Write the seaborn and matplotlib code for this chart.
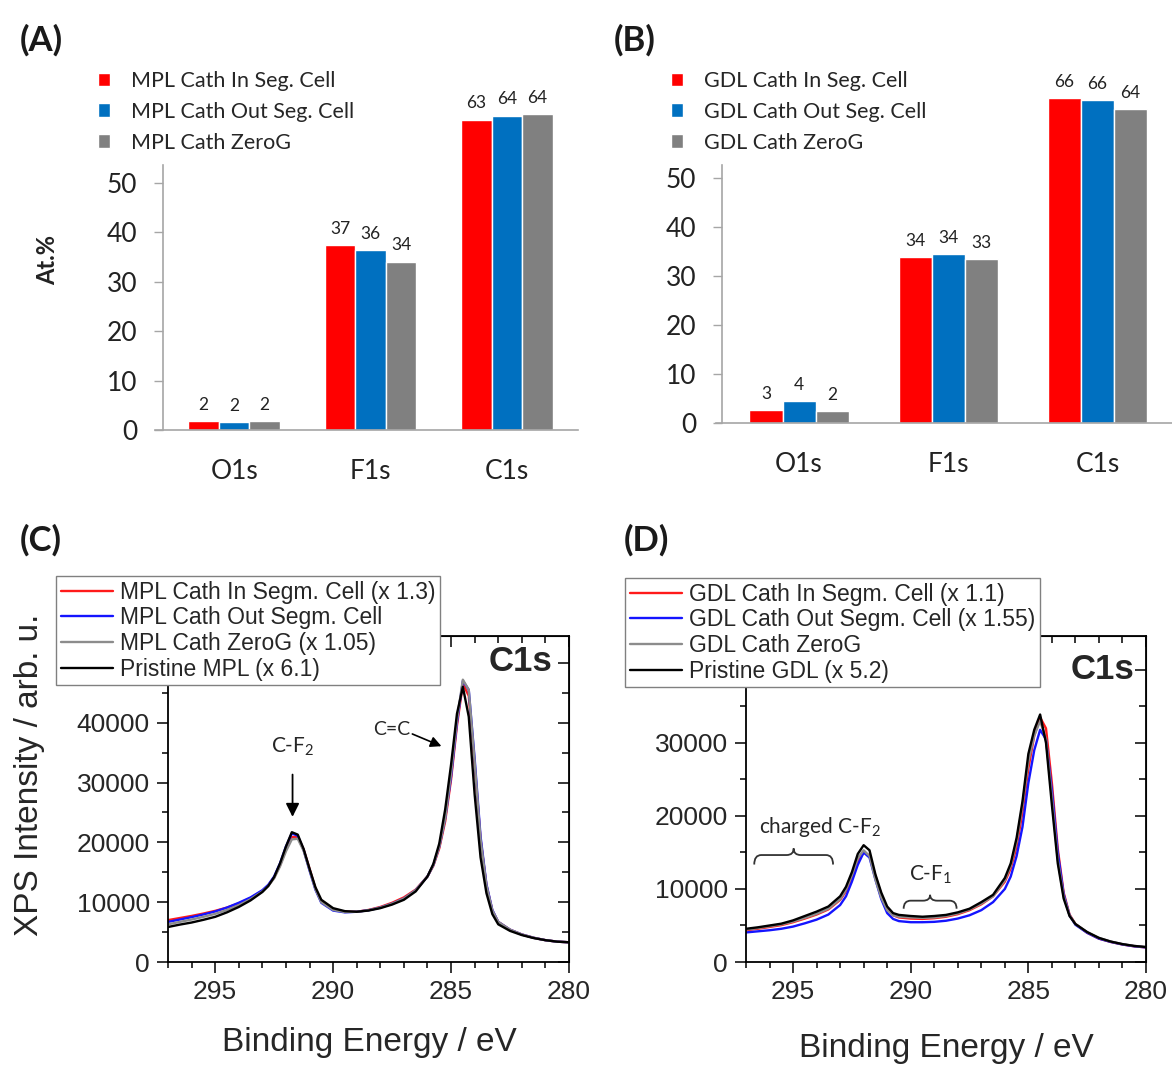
import numpy as np
import pandas as pd
import matplotlib
matplotlib.use("Agg")
import matplotlib.pyplot as plt
import seaborn as sns
from matplotlib.ticker import MultipleLocator, FuncFormatter
from matplotlib.path import Path
from matplotlib.patches import PathPatch

# ---------------- data ----------------
lines = ["O1s", "F1s", "C1s"]

a_samples = ["MPL Cath In Seg. Cell", "MPL Cath Out Seg. Cell", "MPL Cath ZeroG"]
a_in = [1.8, 37.4, 62.8]
a_out = [1.6, 36.4, 63.6]
a_zero = [1.8, 34.1, 63.9]

b_samples = ["GDL Cath In Seg. Cell", "GDL Cath Out Seg. Cell", "GDL Cath ZeroG"]
b_in = [2.6, 33.8, 66.3]
b_out = [4.4, 34.4, 65.9]
b_zero = [2.4, 33.4, 64.1]

bar_colors = ["#ff0000", "#0070c0", "#808080"]

energy = [297.0, 296.5, 296.0, 295.5, 295.0, 294.5, 294.0, 293.5, 293.0, 292.75,
          292.5, 292.25, 292.0, 291.75, 291.5, 291.25, 291.0, 290.75, 290.5, 290.0,
          289.5, 289.0, 288.5, 288.0, 287.5, 287.0, 286.5, 286.0, 285.75, 285.5,
          285.25, 285.0, 284.75, 284.5, 284.25, 284.0, 283.75, 283.5, 283.25, 283.0,
          282.5, 282.0, 281.5, 281.0, 280.5, 280.0]

c_labels = ["MPL Cath In Segm. Cell (x 1.3)", "MPL Cath Out Segm. Cell",
            "MPL Cath ZeroG (x 1.05)", "Pristine MPL (x 6.1)"]
c_in = [7000, 7350, 7700, 8100, 8550, 9100, 9800, 10700, 11900, 12800,
        14100, 16200, 18800, 20900, 20900, 18800, 15600, 12300, 10100, 8800,
        8400, 8400, 8700, 9200, 9900, 10800, 12100, 14300, 16100, 19000,
        23500, 30500, 39500, 46500, 44500, 33000, 20500, 12800, 8600, 6700,
        5400, 4600, 4050, 3650, 3400, 3300]
c_out = [6700, 7100, 7500, 7950, 8450, 9100, 9900, 10800, 12000, 12900,
         14300, 16500, 19300, 21500, 21100, 18700, 15300, 12100, 9900, 8600,
         8300, 8400, 8650, 9100, 9750, 10600, 12000, 14300, 16200, 19300,
         24000, 31000, 40000, 47000, 45500, 34000, 21000, 13000, 8700, 6700,
         5400, 4600, 4050, 3650, 3400, 3300]
c_zero = [6300, 6700, 7100, 7550, 8050, 8700, 9500, 10500, 11800, 12700,
          14000, 16000, 18500, 20500, 20600, 18600, 15400, 12200, 10000, 8700,
          8350, 8400, 8650, 9100, 9750, 10600, 12000, 14300, 16200, 19300,
          24000, 31500, 40500, 47200, 45500, 33500, 20500, 12800, 8600, 6700,
          5400, 4600, 4050, 3650, 3400, 3300]
c_pristine = [5850, 6250, 6600, 7050, 7550, 8300, 9200, 10300, 11700, 12700,
              14200, 16500, 19300, 21700, 21300, 18900, 15600, 12500, 10400, 9000,
              8500, 8400, 8600, 9000, 9600, 10400, 11800, 14300, 16400, 19800,
              25500, 33000, 41500, 46000, 41000, 28000, 17500, 11500, 8000, 6300,
              5200, 4500, 4000, 3650, 3400, 3300]

d_labels = ["GDL Cath In Segm. Cell (x 1.1)", "GDL Cath Out Segm. Cell (x 1.55)",
            "GDL Cath ZeroG", "Pristine GDL (x 5.2)"]
d_in = [4350, 4550, 4800, 5050, 5450, 5950, 6500, 7200, 8500, 9700,
        11500, 13700, 15000, 14600, 11800, 9200, 7300, 6400, 6100, 5950,
        5900, 6000, 6200, 6550, 7100, 7900, 9000, 11000, 12800, 15800,
        20500, 26500, 31000, 33500, 32000, 24500, 15500, 9500, 6500, 5200,
        4000, 3200, 2750, 2400, 2150, 2000]
d_out = [4050, 4200, 4350, 4550, 4850, 5300, 5800, 6500, 7800, 9000,
         11000, 13300, 15000, 14300, 11300, 8600, 6700, 5900, 5600, 5450,
         5450, 5500, 5650, 5950, 6400, 7100, 8200, 10000, 11700, 14500,
         18500, 24500, 29000, 31800, 30500, 23500, 15000, 9300, 6400, 5100,
         4000, 3200, 2750, 2400, 2150, 2000]
d_zero = [4450, 4650, 4900, 5150, 5550, 6050, 6600, 7300, 8600, 9900,
          11900, 14200, 15300, 14500, 11300, 8800, 7100, 6400, 6200, 6100,
          6050, 6100, 6300, 6650, 7200, 8000, 9000, 11200, 13200, 16500,
          21500, 27500, 31000, 33000, 30500, 22500, 14000, 9000, 6400, 5200,
          4100, 3300, 2800, 2450, 2200, 2050]
d_pristine = [4550, 4750, 5000, 5250, 5700, 6300, 6900, 7600, 9000, 10300,
              12300, 14800, 16000, 15300, 12000, 9500, 7600, 6700, 6450, 6300,
              6200, 6300, 6450, 6800, 7300, 8200, 9200, 11500, 13500, 17000,
              22000, 28500, 31800, 33900, 30000, 21500, 13500, 8700, 6300, 5200,
              4100, 3300, 2800, 2450, 2200, 2050]

line_colors = ["#ff1a1a", "#1414ff", "#8c8c8c", "#000000"]

# ---------------- style ----------------
sns.set_style("ticks")
plt.rcParams["font.family"] = ["Liberation Sans", "DejaVu Sans"]
plt.rcParams["mathtext.fontset"] = "custom"
plt.rcParams["mathtext.rm"] = "Lato"
plt.rcParams["mathtext.it"] = "Lato:italic"
plt.rcParams["mathtext.bf"] = "Lato:bold"

W, H = 1172, 1068
fig = plt.figure(figsize=(W / 100, H / 100), dpi=100)


def rect(l, r, t, b):
    return [l / W, 1 - b / H, (r - l) / W, (b - t) / H]


def bar_panel(ax, samples, vin, vout, vzero, width, xlim, spine_x, spine_top, leg_xy):
    df = pd.DataFrame({
        "line": lines * 3,
        "sample": [samples[0]] * 3 + [samples[1]] * 3 + [samples[2]] * 3,
        "value": vin + vout + vzero,
    })
    sns.barplot(data=df, x="line", y="value", hue="sample", palette=bar_colors,
                saturation=1, width=width, errorbar=None, ax=ax)
    for cont in ax.containers:
        ax.bar_label(cont, labels=[f"{v:.0f}" for v in cont.datavalues],
                     padding=6, fontsize=12.5, family="Lato", color="#222222")
    ax.set_ylim(0, 67)
    ax.set_xlim(*xlim)
    ax.set_yticks([0, 10, 20, 30, 40, 50])
    ax.set_xlabel("")
    ax.set_ylabel("")
    for s in ["top", "right"]:
        ax.spines[s].set_visible(False)
    for s in ["left", "bottom"]:
        ax.spines[s].set_color("#a6a6a6")
        ax.spines[s].set_linewidth(1.2)
    ax.spines["left"].set_position(("data", spine_x))
    ax.spines["left"].set_bounds(0, spine_top)
    ax.tick_params(axis="y", direction="out", length=6.5, color="#a6a6a6", width=1,
                   labelsize=19, pad=12, labelfontfamily="Lato", labelcolor="#222222")
    ax.tick_params(axis="x", length=0, labelsize=19, pad=21, labelfontfamily="Lato",
                   labelcolor="#222222")
    h, l = ax.get_legend_handles_labels()
    if ax.get_legend() is not None:
        ax.get_legend().remove()
    fig.legend(h, l, loc="upper left", bbox_to_anchor=(leg_xy[0] / W, 1 - leg_xy[1] / H),
               frameon=False, handlelength=0.58, handleheight=0.58, handletextpad=0.95,
               labelspacing=0.5, borderpad=0, borderaxespad=0,
               prop=dict(family="Lato", size=15.5))


axA = fig.add_axes(rect(155, 578, 430 - 67 * 4.94, 430))
bar_panel(axA, a_samples, a_in, a_out, a_zero, 0.67, (-0.58, 2.52), -0.52, 53.6, (98, 71))

axB = fig.add_axes(rect(716, 1172, 423 - 67 * 4.9, 423))
bar_panel(axB, b_samples, b_in, b_out, b_zero, 0.665, (-0.557, 2.5), -0.517, 52.7, (671, 71))

fig.text(48 / W, 1 - 260 / H, "At.%", rotation=90, ha="center", va="center",
         fontsize=17, fontweight="bold", family="Lato", color="#222222")


def xps_panel(ax, vals, labels, ytop, label_max, leg_xy):
    rows = []
    for lab, v in zip(labels, vals):
        for e, y in zip(energy, v):
            rows.append((e, y, lab))
    df = pd.DataFrame(rows, columns=["E", "I", "sample"])
    sns.lineplot(data=df, x="E", y="I", hue="sample", hue_order=labels,
                 palette=line_colors, sort=False, lw=1.7, ax=ax, legend=False)
    ax.set_xlim(297, 280)
    ax.set_ylim(0, ytop)
    ax.set_xlabel("")
    ax.set_ylabel("")
    ax.xaxis.set_major_locator(MultipleLocator(5))
    ax.xaxis.set_minor_locator(MultipleLocator(1))
    ax.yaxis.set_major_locator(MultipleLocator(10000))
    ax.yaxis.set_minor_locator(MultipleLocator(5000))
    # labels above label_max are hidden behind the legend box in the original
    ax.yaxis.set_major_formatter(FuncFormatter(
        lambda v, p: f"{v:.0f}" if v <= label_max else ""))
    for s in ax.spines.values():
        s.set_linewidth(1.3)
        s.set_color("black")
    ax.tick_params(which="major", direction="out", length=8, width=1.3,
                   labelsize=19, pad=5)
    ax.tick_params(which="minor", direction="out", length=4.5, width=1.3)
    ax.tick_params(top=False, right=False)
    secx = ax.secondary_xaxis("top")
    secx.xaxis.set_major_locator(MultipleLocator(5))
    secx.xaxis.set_minor_locator(MultipleLocator(1))
    secx.tick_params(which="both", direction="in", labeltop=False, width=1.3)
    secx.tick_params(which="major", length=8)
    secx.tick_params(which="minor", length=5)
    secy = ax.secondary_yaxis("right")
    secy.yaxis.set_major_locator(MultipleLocator(10000))
    secy.yaxis.set_minor_locator(MultipleLocator(5000))
    secy.tick_params(which="both", direction="in", labelright=False, width=1.3)
    secy.tick_params(which="major", length=8)
    secy.tick_params(which="minor", length=5)
    fig.legend(ax.lines[:4], labels, loc="upper left",
               bbox_to_anchor=(leg_xy[0] / W, 1 - leg_xy[1] / H),
               frameon=True, fancybox=False, framealpha=1, edgecolor="#808080",
               handlelength=2.3, handletextpad=0.3, labelspacing=0.12,
               borderpad=0.2, borderaxespad=0, prop=dict(size=16.5))


def brace(ax, x0, x1, y, d, depth, bump):
    s = np.sign(x1 - x0)
    xm = (x0 + x1) / 2
    verts = [(x0, y - depth), (x0, y), (x0 + s * d, y), (xm - s * d, y),
             (xm, y), (xm, y + bump), (xm, y), (xm + s * d, y), (x1 - s * d, y),
             (x1, y), (x1, y - depth)]
    codes = [Path.MOVETO, Path.CURVE3, Path.CURVE3, Path.LINETO,
             Path.CURVE3, Path.CURVE3, Path.CURVE3, Path.CURVE3, Path.LINETO,
             Path.CURVE3, Path.CURVE3]
    ax.add_patch(PathPatch(Path(verts, codes), fill=False, lw=1.3, color="#333333"))


axC = fig.add_axes(rect(168, 569, 636, 962))
xps_panel(axC, [c_in, c_out, c_zero, c_pristine], c_labels, 54500, 45000, (56, 576))
axC.annotate("", xy=(291.72, 23800), xytext=(291.72, 31800),
             arrowprops=dict(arrowstyle="-|>", color="black", lw=1.3, mutation_scale=20))
axC.text(291.72, 36000, "C-F$_{\\mathrm{2}}$", ha="center", va="center",
         fontsize=15, family="Lato")
axC.text(287.5, 38900, "C=C", ha="center", va="center", fontsize=14, family="Lato")
axC.annotate("", xy=(285.3, 35900), xytext=(286.75, 38300),
             arrowprops=dict(arrowstyle="-|>", color="black", lw=1.2, mutation_scale=16))
axC.text(282.05, 50300, "C1s", ha="center", va="center", fontsize=25, fontweight="bold")

axD = fig.add_axes(rect(746, 1146, 636, 962))
xps_panel(axD, [d_in, d_out, d_zero, d_pristine], d_labels, 44650, 35000, (625, 578))
axD.text(293.85, 18500, "charged C-F$_{\\mathrm{2}}$", ha="center", va="center",
         fontsize=15, family="Lato")
brace(axD, 296.65, 293.3, 14650, 0.3, 1300, 900)
axD.text(289.15, 11900, "C-F$_{\\mathrm{1}}$", ha="center", va="center",
         fontsize=15, family="Lato")
brace(axD, 290.3, 288.05, 8400, 0.3, 1100, 800)
axD.text(281.85, 40000, "C1s", ha="center", va="center", fontsize=25, fontweight="bold")

fig.text(30 / W, 1 - 775 / H, "XPS Intensity / arb. u.", rotation=90,
         ha="center", va="center", fontsize=24)
fig.text(369 / W, 1 - 1043 / H, "Binding Energy / eV", ha="center", va="center", fontsize=24)
fig.text(946 / W, 1 - 1048 / H, "Binding Energy / eV", ha="center", va="center", fontsize=24)

for lab, x, y in [("(A)", 20, 40), ("(B)", 614, 40), ("(C)", 20, 540), ("(D)", 624, 540)]:
    fig.text(x / W, 1 - y / H, lab, ha="left", va="center", fontsize=25,
             fontweight="bold", family="Lato", color="#1a1a1a")

fig.savefig("out.png", dpi=100)
